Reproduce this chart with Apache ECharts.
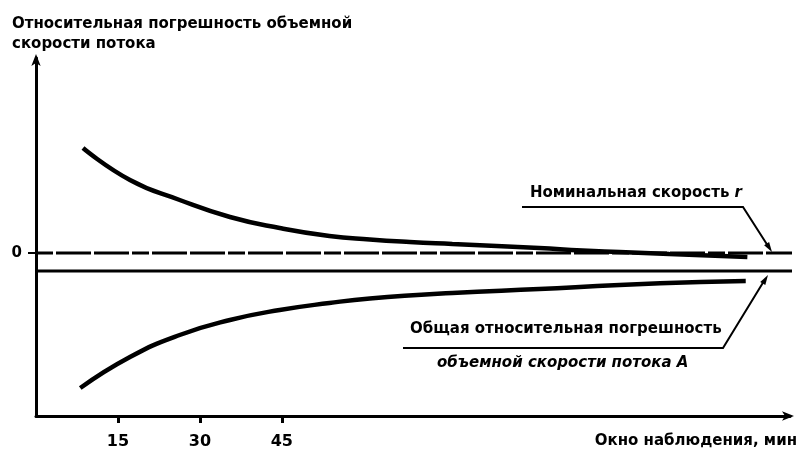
<!DOCTYPE html>
<html>
<head>
<meta charset="utf-8">
<script src="https://cdn.jsdelivr.net/npm/echarts@6/dist/echarts.min.js"></script>
<style>
html,body{margin:0;padding:0;background:#fff;}
#c{width:798px;height:454px;}
</style>
</head>
<body>
<div id="c"></div>
<script>
// Observation window, minutes
const upperX = [8.6, 17.2, 26.3, 35.5, 44.6, 53.7, 61.1, 68.4, 76.2, 84.3, 92.1, 100.0, 106.8, 115.9, 130.2];
const upperY = [10.5, 7.3, 5.3, 3.6, 2.5, 1.7, 1.35, 1.1, 0.9, 0.7, 0.5, 0.25, 0.1, -0.1, -0.4];
const lowerX = [8.1, 17.2, 26.3, 35.5, 44.6, 53.7, 61.1, 76.2, 92.1, 106.8, 121.6, 129.9];
const lowerY = [-13.5, -10.4, -8.2, -6.7, -5.7, -5.0, -4.55, -4.0, -3.6, -3.2, -2.9, -2.8];
const nominalX = [0, 139.8];
const nominalY = [0, 0];
const refX = [0, 139.8];
const refY = [-1.8, -1.8];
const xTicks = [15, 30, 45];
const yTicks = [0];

const titleLines = ['Относительная погрешность объемной', 'скорости потока'];
const xName = 'Окно наблюдения, мин';
const nominalLabel = 'Номинальная скорость ';
const totalLabel1 = 'Общая относительная погрешность';
const totalLabel2 = 'объемной скорости потока ';

const zip = (xs, ys) => xs.map((x, i) => [x, ys[i]]);
const FF = '"DejaVu Sans", sans-serif';
const F15 = 'bold 15px ' + FF;

const chart = echarts.init(document.getElementById('c'));
chart.setOption({
  animation: false,
  backgroundColor: '#fff',
  grid: {left: 36, right: 8, top: 58, bottom: 38},
  xAxis: {
    type: 'value', min: 0, max: 138,
    splitLine: {show: false},
    axisLine: {show: true, onZero: false, symbol: ['none', 'arrow'], symbolSize: [7, 12], symbolOffset: [0, 4],
      lineStyle: {color: '#000', width: 3}},
    axisTick: {show: true, inside: false, length: 7, customValues: xTicks, lineStyle: {color: '#000', width: 3}},
    axisLabel: {show: true, customValues: xTicks, margin: 18, color: '#000',
      fontFamily: FF, fontWeight: 'bold', fontSize: 16}
  },
  yAxis: {
    type: 'value', min: -16.3, max: 19.5,
    splitLine: {show: false},
    axisLine: {show: true, onZero: false, symbol: ['none', 'arrow'], symbolSize: [7, 12], symbolOffset: [0, 4],
      lineStyle: {color: '#000', width: 3}},
    axisTick: {show: true, inside: false, length: 8, customValues: yTicks, lineStyle: {color: '#000', width: 2}},
    axisLabel: {show: true, customValues: yTicks, margin: 14, color: '#000',
      fontFamily: FF, fontWeight: 'bold', fontSize: 15}
  },
  series: [
    {type: 'line', data: zip(nominalX, nominalY), symbol: 'none', clip: false, z: 1,
      lineStyle: {color: '#000', width: 3, type: [17, 3, 35, 3, 35, 3]}},
    {type: 'line', data: zip(refX, refY), symbol: 'none', clip: false, z: 1,
      lineStyle: {color: '#000', width: 3}},
    {type: 'line', data: zip(upperX, upperY), symbol: 'none', smooth: 0.5,
      lineStyle: {color: '#000', width: 4.5}},
    {type: 'line', data: zip(lowerX, lowerY), symbol: 'none', smooth: 0.5,
      lineStyle: {color: '#000', width: 4.5}}
  ],
  graphic: [
    {type: 'text', x: 12, y: 24, style: {text: titleLines[0], font: F15, fill: '#000', verticalAlign: 'middle'}},
    {type: 'text', x: 12, y: 44, style: {text: titleLines[1], font: F15, fill: '#000', verticalAlign: 'middle'}},
    {type: 'text', x: 797, y: 441, style: {text: xName, font: F15, fill: '#000', align: 'right', verticalAlign: 'middle'}},
    // nominal rate annotation
    {type: 'text', x: 742, y: 193, style: {
      text: '{a|' + nominalLabel + '}{b|r}',
      rich: {a: {font: F15, fill: '#000'}, b: {font: 'italic ' + F15, fill: '#000'}},
      align: 'right', verticalAlign: 'middle'}},
    {type: 'polyline', shape: {points: [[522, 207], [743, 207], [768, 246]]}, style: {stroke: '#000', lineWidth: 2, fill: null}},
    {type: 'polygon', shape: {points: [[772, 252], [764.1, 245.2], [769.1, 242.0]]}, style: {fill: '#000'}},
    // total relative error annotation
    {type: 'text', x: 410, y: 329, style: {text: totalLabel1, font: F15, fill: '#000', verticalAlign: 'middle'}},
    {type: 'text', x: 437, y: 363, style: {
      text: '{a|' + totalLabel2 + '}{b|A}',
      rich: {a: {font: 'italic bold 15px ' + FF, fill: '#000'}, b: {font: 'italic bold 15px ' + FF, fill: '#000'}},
      verticalAlign: 'middle'}},
    {type: 'polyline', shape: {points: [[403, 348], [723, 348], [764, 281]]}, style: {stroke: '#000', lineWidth: 2, fill: null}},
    {type: 'polygon', shape: {points: [[768, 275], [765.3, 285.1], [760.2, 281.9]]}, style: {fill: '#000'}}
  ]
});
</script>
</body>
</html>
